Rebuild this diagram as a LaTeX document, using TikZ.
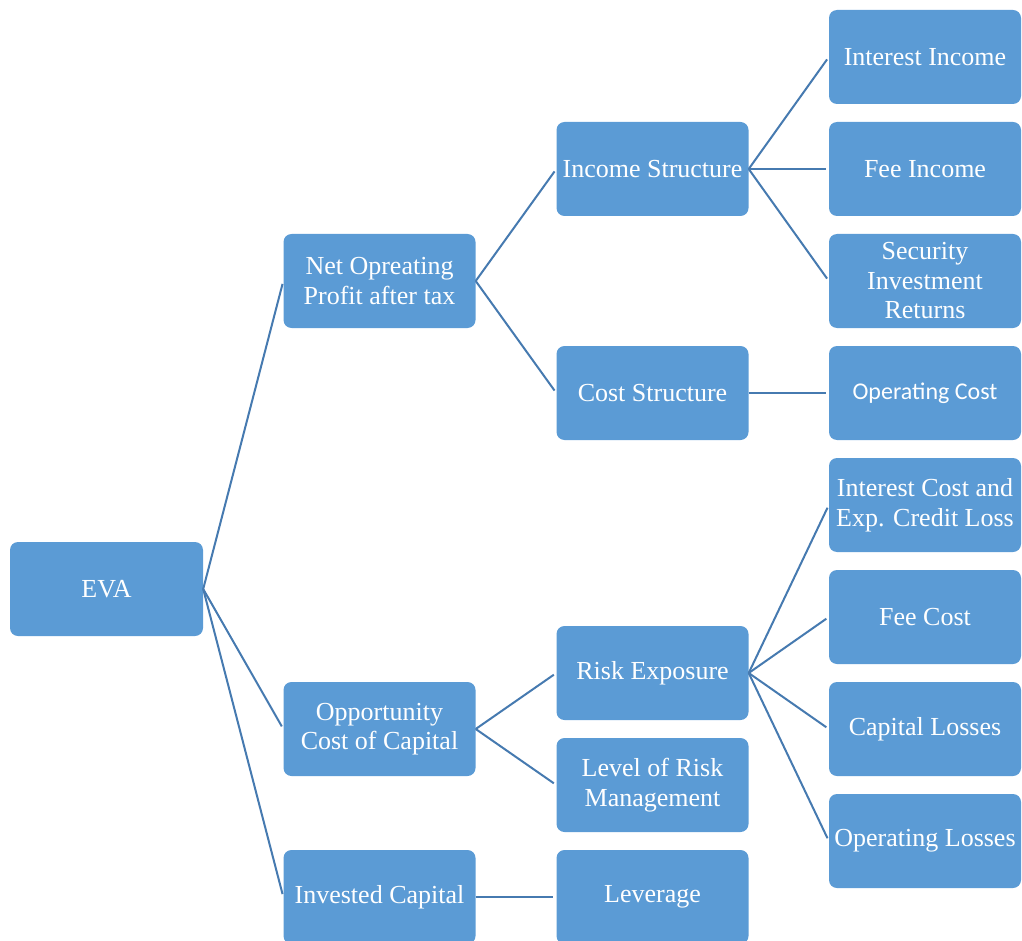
\documentclass[tikz,border=0pt]{standalone}
\usepackage{fontspec}
\setmainfont{Liberation Serif}
\newfontfamily\calib{Carlito}
\usepackage{tikz}
\usetikzlibrary{calc}

\definecolor{boxblue}{RGB}{91,155,213}
\definecolor{linkblue}{RGB}{70,122,176}

\begin{document}
\begin{tikzpicture}[x=1pt,y=-1pt,
    box/.style={rectangle, rounded corners=8pt, fill=boxblue, text=white,
      minimum width=192pt, minimum height=94pt, inner sep=0pt, align=center,
      font=\fontsize{26}{29.5}\selectfont},
    link/.style={draw=linkblue, line width=2pt, shorten >=3pt}]
      \useasboundingbox (0,0) rectangle (1022,941);

      \node[box, minimum width=193pt] (EVA) at (106.5,589) {EVA};

      \node[box] (NOPAT) at (379.5,281) {Net Opreating\\Profit after tax};
      \node[box] (OCC)   at (379.5,729) {Opportunity\\Cost of Capital};
      \node[box] (IC)    at (379.5,897) {Invested Capital};

      \node[box] (IS)  at (652.5,169) {Income Structure};
      \node[box] (CS)  at (652.5,393) {Cost Structure};
      \node[box] (RE)  at (652.5,673) {Risk Exposure};
      \node[box] (LRM) at (652.5,785) {Level of Risk\\Management};
      \node[box] (LEV) at (652.5,897) {Leverage};

      \node[box] (II)  at (925,57)  {Interest Income};
      \node[box] (FI)  at (925,169) {Fee Income};
      \node[box] (SIR) at (925,281) {Security\\Investment\\Returns};
      \node[box, font=\calib\fontsize{24}{29}\selectfont] (OC) at (925,393) {Operating Cost};
      \node[box] (ICL) at (925,505) {Interest Cost and\\Exp. Credit Loss};
      \node[box] (FC)  at (925,617) {Fee Cost};
      \node[box] (CL)  at (925,729) {Capital Losses};
      \node[box] (OL)  at (925,841) {Operating Losses};

      \draw [link] (EVA.east)   to (NOPAT.west);
      \draw [link] (EVA.east)   to (OCC.west);
      \draw [link] (EVA.east)   to (IC.west);
      \draw [link] (NOPAT.east) to (IS.west);
      \draw [link] (NOPAT.east) to (CS.west);
      \draw [link] (OCC.east)   to (RE.west);
      \draw [link] (OCC.east)   to (LRM.west);
      \draw [link] (IC.east)    to (LEV.west);
      \draw [link] (IS.east)    to (II.west);
      \draw [link] (IS.east)    to (FI.west);
      \draw [link] (IS.east)    to (SIR.west);
      \draw [link] (CS.east)    to (OC.west);
      \draw [link] (RE.east)    to (ICL.west);
      \draw [link] (RE.east)    to (FC.west);
      \draw [link] (RE.east)    to (CL.west);
      \draw [link] (RE.east)    to (OL.west);
\end{tikzpicture}
\end{document}
